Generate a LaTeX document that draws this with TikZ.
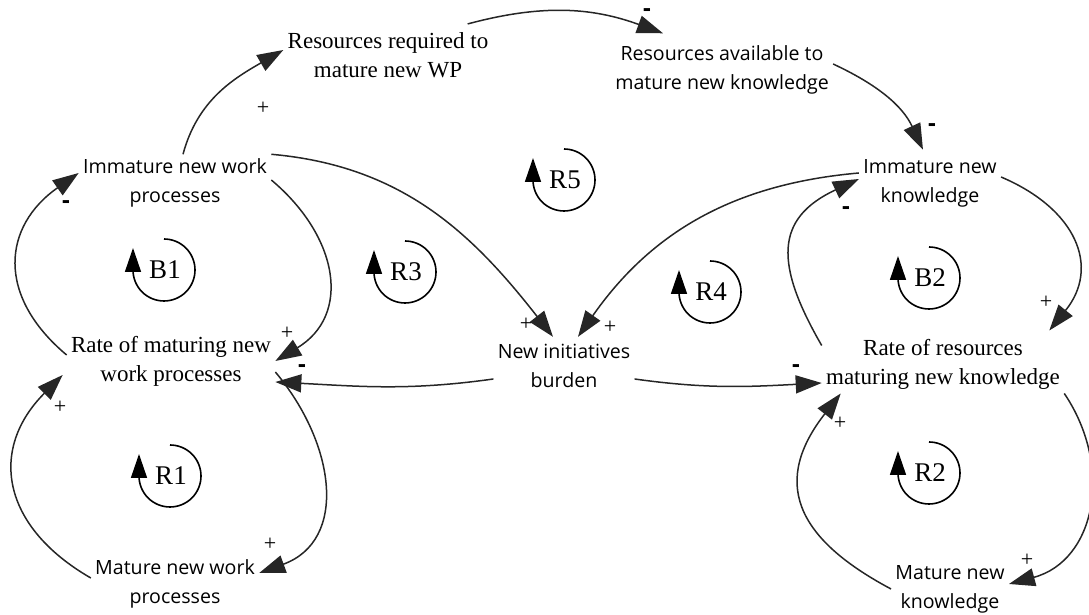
\documentclass[tikz,border=0pt]{standalone}
\usepackage{fontspec}
\setmainfont{Liberation Serif}
\newfontfamily\handfont{Open Sans}
\usetikzlibrary{arrows.meta}

\tikzset{
  level/.style={font=\handfont\fontsize{9.8}{14.5}\selectfont, align=center, inner sep=2pt},
  rate/.style={font=\fontsize{11.5}{14.5}\selectfont, align=center, inner sep=2pt},
  link/.style={draw=black!85, line width=0.75pt, -{Triangle[length=13pt,width=9pt]}},
  pos sign/.style={font=\fontsize{11}{11}\selectfont, inner sep=0pt},
  neg sign/.style={font=\handfont\bfseries\fontsize{12}{12}\selectfont, inner sep=0pt},
  loopname/.style={font=\fontsize{13.5}{13.5}\selectfont, inner sep=0pt},
  looparc/.style={line width=0.8pt, -{Triangle[length=12pt,width=8pt]}},
}

\begin{document}
\begin{tikzpicture}[x=0.5pt, y=0.5pt]
        \useasboundingbox (0,0) rectangle (1089,615);

        % variables
        \node[rate]  (resreq)   at (388, 560) {Resources required to\\mature new WP};
        \node[level] (resavail) at (722, 545) {Resources available to\\mature new knowledge};
        \node[level] (iwp)      at (175, 432) {Immature new work\\processes};
        \node[level] (ink)      at (930, 432) {Immature new\\knowledge};
        \node[rate]  (rwp)      at (171, 254) {Rate of maturing new\\work processes};
        \node[level] (nib)      at (564, 249) {New initiatives\\burden};
        \node[rate]  (rk)       at (943, 251) {Rate of resources\\maturing new knowledge};
        \node[level] (mwp)      at (175, 31)  {Mature new work\\processes};
        \node[level] (mk)       at (950, 26)  {Mature new\\knowledge};

        % links
        \draw[link] ([xshift=4pt]iwp.north) to[out=75, in=210] ([yshift=2.5pt]resreq.west);
        \draw[link] ([xshift=-12.5pt,yshift=2pt]resreq.north east) to[out=15, in=160] ([xshift=-29.5pt,yshift=4pt]resavail.north);
        \draw[link] ([yshift=3pt]resavail.east) to[out=-25, in=115] ([xshift=-3.5pt,yshift=2.5pt]ink.north);
        \draw[link] (iwp.north east) to[out=-5, in=128] ([xshift=-5.5pt,yshift=1.5pt]nib.north);
        \draw[link] ([yshift=5pt]ink.west) to[out=185, in=55] ([xshift=7pt,yshift=1.5pt]nib.north);
        \draw[link] ([yshift=3pt]rwp.west) to[out=140, in=215, looseness=1.3] ([yshift=5pt]iwp.west);
        \draw[link] ([yshift=1.5pt]iwp.east) to[out=-40, in=31, looseness=1.25] (rwp.east);
        \draw[link] ([yshift=3pt]mwp.west) to[out=150, in=225, looseness=1.3] ([xshift=-2pt,yshift=-7pt]rwp.west);
        \draw[link] ([yshift=-5.5pt]rwp.east) to[out=-50, in=20, looseness=1.2] ([yshift=5.5pt]mwp.east);
        \draw[link] ([yshift=-6.5pt]nib.west) to[out=188, in=-3] ([yshift=-10.5pt]rwp.east);
        \draw[link] ([yshift=-6.5pt]nib.east) to[out=-8, in=183] ([yshift=-9.5pt]rk.west);
        \draw[link] ([yshift=-5.5pt]rk.north west) to[out=120, in=205, looseness=1.4] ([yshift=2pt]ink.west);
        \draw[link] ([yshift=3pt]ink.east) to[out=-23, in=51, looseness=1.3] ([xshift=-7.5pt,yshift=2pt]rk.north east);
        \draw[link] (mk.west) to[out=152, in=232, looseness=1.4] ([xshift=9.5pt]rk.south west);
        \draw[link] (rk.south east) to[out=-56, in=15, looseness=1.15] ([yshift=2.5pt]mk.east);

        % polarities
        \node[pos sign] (s1)  at (263, 507)  {+};
        \node[neg sign] (s2)  at (647, 602)  {-};
        \node[neg sign] (s3)  at (932, 487)  {-};
        \node[pos sign] (s4)  at (526, 291)  {+};
        \node[pos sign] (s5)  at (610, 288)  {+};
        \node[neg sign] (s6)  at (66, 410)   {-};
        \node[pos sign] (s7)  at (60, 208)   {+};
        \node[pos sign] (s8)  at (270, 71)   {+};
        \node[pos sign] (s9)  at (287, 282)  {+};
        \node[neg sign] (s10) at (302, 246)  {-};
        \node[neg sign] (s11) at (796, 246)  {-};
        \node[neg sign] (s12) at (846, 404)  {-};
        \node[pos sign] (s13) at (1046, 313) {+};
        \node[pos sign] (s14) at (840, 192)  {+};
        \node[pos sign] (s15) at (1027, 55)  {+};

        % loop markers
        \node[loopname] (b1) at (165, 345) {B1};
        \node[loopname] (r1) at (171, 139) {R1};
        \node[loopname] (r3) at (406, 343) {R3};
        \node[loopname] (r5) at (565, 435) {R5};
        \node[loopname] (r4) at (711, 323) {R4};
        \node[loopname] (b2) at (930, 337) {B2};
        \node[loopname] (r2) at (930, 142) {R2};
        \draw[looparc] (b1.center) ++(-1,31) arc[start angle=90, end angle=-180, radius=15.5pt] -- ++(0,22);
        \draw[looparc] (r1.center) ++(-1,31) arc[start angle=90, end angle=-180, radius=15.5pt] -- ++(0,22);
        \draw[looparc] (r3.center) ++(-1,31) arc[start angle=90, end angle=-180, radius=15.5pt] -- ++(0,22);
        \draw[looparc] (r5.center) ++(-1,31) arc[start angle=90, end angle=-180, radius=15.5pt] -- ++(0,22);
        \draw[looparc] (r4.center) ++(-1,31) arc[start angle=90, end angle=-180, radius=15.5pt] -- ++(0,22);
        \draw[looparc] (b2.center) ++(-1,31) arc[start angle=90, end angle=-180, radius=15.5pt] -- ++(0,22);
        \draw[looparc] (r2.center) ++(-1,31) arc[start angle=90, end angle=-180, radius=15.5pt] -- ++(0,22);
\end{tikzpicture}
\end{document}
